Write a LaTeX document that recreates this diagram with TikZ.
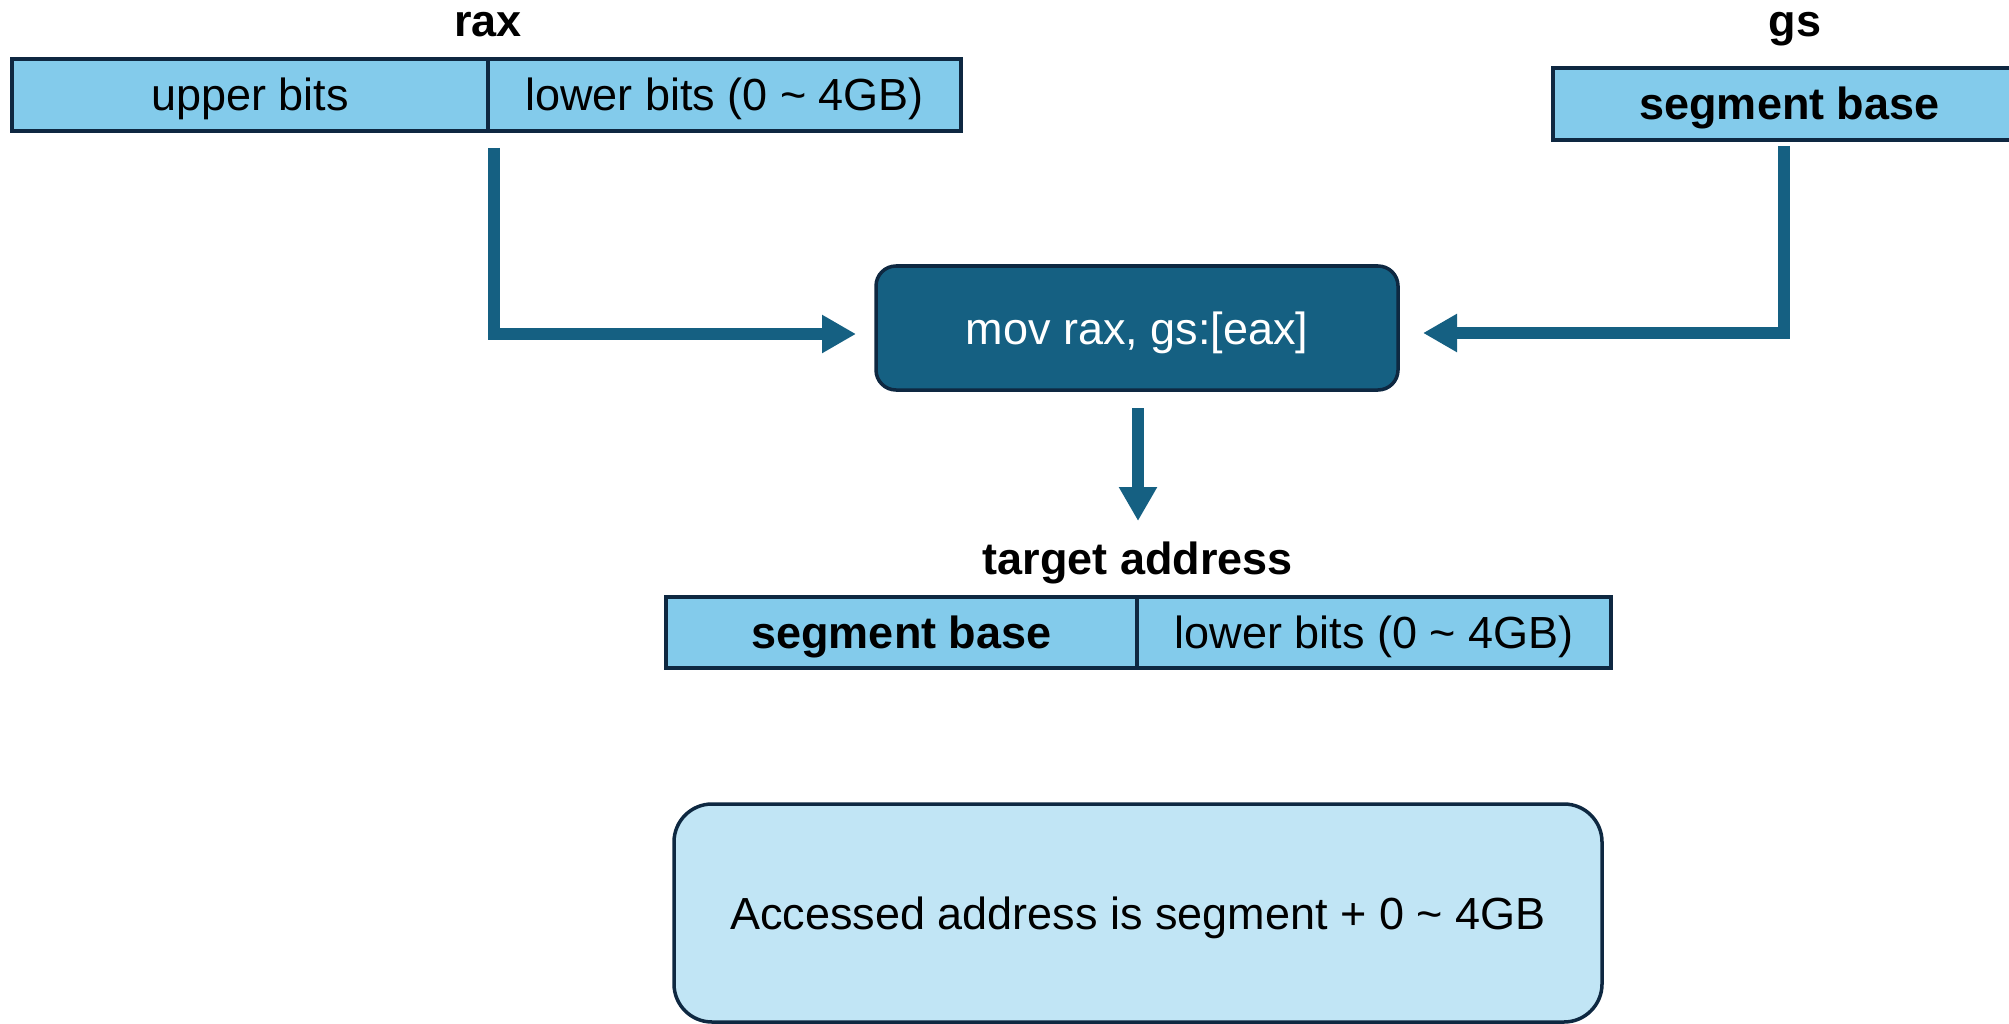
\documentclass[tikz,border=0pt]{standalone}
\usepackage{fontspec}
\setmainfont{Liberation Sans}
\usetikzlibrary{arrows.meta}
\definecolor{cellfill}{HTML}{83CBEB}
\definecolor{edgedark}{HTML}{0E2841}
\definecolor{flowblue}{HTML}{156082}
\definecolor{notefill}{HTML}{C1E5F5}
\begin{document}
\begin{tikzpicture}[x=1pt,y=-1pt,
  every node/.style={font=\fontsize{45pt}{54pt}\selectfont, inner sep=0pt, outer sep=0pt,
                     text height=32pt, text depth=0pt},
  boldtext/.style={font=\fontsize{45pt}{54pt}\selectfont\bfseries},
  cell/.style={draw=edgedark, fill=cellfill, line width=3.5pt, minimum height=72pt, anchor=north west},
  flow/.style={draw=flowblue, line width=12pt, line join=miter, -{Triangle[length=34pt,width=36pt]}}]
\useasboundingbox (0,0) rectangle (2009,1024);

% register rax
\node[boldtext, anchor=base] (raxname) at (488,37) {rax};
\node[cell, minimum width=476pt] (raxhi) at (12,59) {upper bits};
\node[cell, minimum width=473pt] (raxlo) at (488,59) {lower bits (0 \textasciitilde{} 4GB)};

% register gs
\node[boldtext, anchor=base] (gsname) at (1795,37) {gs};
\node[cell, boldtext, minimum width=473pt, minimum height=72pt] (gsbase) at (1553,68) {segment base};

% instruction
\node[draw=edgedark, fill=flowblue, text=white, line width=3.5pt, rounded corners=20pt,
      minimum width=522pt, minimum height=124pt] (mov) at (1137,328) {mov rax, gs:[eax]};

% resulting address
\node[boldtext, anchor=base] (tgtname) at (1138,574) {target address};
\node[cell, boldtext, minimum width=471pt, minimum height=71pt] (tgtbase) at (666,597) {segment base};
\node[cell, minimum width=474pt, minimum height=71pt] (tgtlo) at (1137,597) {lower bits (0 \textasciitilde{} 4GB)};

% summary
\node[draw=edgedark, fill=notefill, line width=3.5pt, rounded corners=38pt,
      minimum width=928pt, minimum height=218pt] (note) at (1138,913)
      {Accessed address is segment + 0 \textasciitilde{} 4GB};

% connectors
\coordinate (raxout) at ([xshift=6pt,yshift=-17pt]raxhi.south east);
\draw[flow] (raxout) |- ([xshift=-20pt,yshift=-6pt]mov.west);

\coordinate (gsout) at ([xshift=-5.5pt,yshift=-6pt]gsbase.south);
\draw[flow] (gsout) |- ([xshift=25pt,yshift=-5pt]mov.east);

\coordinate (movout) at ([xshift=1pt,yshift=-18pt]mov.south);
\draw[flow] (movout) -- ([yshift=21pt]tgtname.north);
\end{tikzpicture}
\end{document}
